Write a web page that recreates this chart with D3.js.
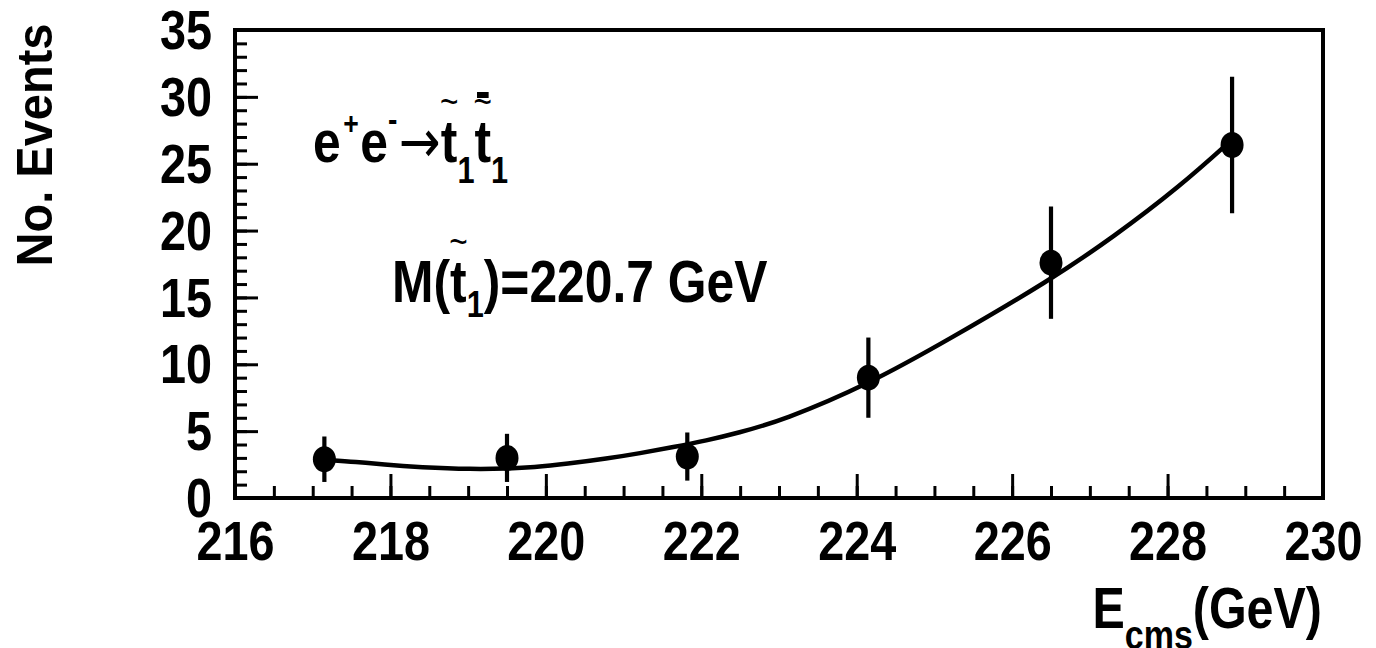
<!DOCTYPE html>
<html>
<head>
<meta charset="utf-8">
<script src="https://cdn.jsdelivr.net/npm/d3@7"></script>
<style>
	body { margin: 0; background: #fff; }
	svg { display: block; font-family: "Liberation Sans", Arial, sans-serif; font-weight: bold; }
</style>
</head>
<body>
<svg id="chart"></svg>
<script>
// measured points (centre-of-mass energy, events, stat. error)
let energies = [217.15, 219.5, 221.82, 224.15, 226.5, 228.83];
let events = [2.9, 3.0, 3.1, 9.0, 17.6, 26.4];
let errors = [1.7, 1.8, 1.8, 3.0, 4.2, 5.1];

// fitted curve
let fitE = [217.16, 217.57, 217.90, 218.38, 219.06, 219.50, 219.84, 220.27, 220.79, 221.21, 221.64,
	222.07, 222.46, 223.05, 224.15, 225.20, 226.49, 227.30, 228.16, 228.83];
let fitN = [2.85, 2.7, 2.5, 2.3, 2.15, 2.2, 2.3, 2.55, 2.95, 3.35, 3.8,
	4.3, 4.85, 5.8, 8.5, 11.9, 16.3, 19.5, 23.3, 26.8];

let xMajor = [216, 218, 220, 222, 224, 226, 228, 230];
let yMajor = [0, 5, 10, 15, 20, 25, 30, 35];

let w = 1376, h = 648;
let leftMargin = 235, rightMargin = 53, topMargin = 30, bottomMargin = 150;
let sx = 0.85; // the original font is a narrow one

let chart = d3.select('#chart').attr('width', w).attr('height', h);

let xScale = d3.scaleLinear().domain([216, 230]).range([leftMargin, w - rightMargin]);
let yScale = d3.scaleLinear().domain([0, 35]).range([h - bottomMargin, topMargin]);

// minor ticks
chart.append('g')
	.attr('transform', `translate(0, ${h - bottomMargin})`)
	.call(d3.axisBottom(xScale).tickValues(d3.range(216, 230.01, 0.5)).tickSizeInner(-12).tickSizeOuter(0).tickFormat(''))
	.call(g => g.select('.domain').remove())
	.selectAll('line').attr('stroke-width', 3);

chart.append('g')
	.attr('transform', `translate(${leftMargin}, 0)`)
	.call(d3.axisLeft(yScale).tickValues(d3.range(0, 35.01, 1)).tickSizeInner(-12).tickSizeOuter(0).tickFormat(''))
	.call(g => g.select('.domain').remove())
	.selectAll('line').attr('stroke-width', 3);

// major ticks + labels
let xAxisGroup = chart.append('g')
	.attr('transform', `translate(0, ${h - bottomMargin})`)
	.call(d3.axisBottom(xScale).tickValues(xMajor).tickSizeInner(-24).tickSizeOuter(0).tickPadding(23).tickFormat(d3.format('d')))
	.call(g => g.select('.domain').remove());
xAxisGroup.selectAll('line').attr('stroke-width', 3);
xAxisGroup.selectAll('text')
	.attr('font-size', 55).attr('font-family', null).attr('fill', '#000')
	.attr('transform', `scale(${sx},1)`);

let yAxisGroup = chart.append('g')
	.attr('transform', `translate(${leftMargin}, 0)`)
	.call(d3.axisLeft(yScale).tickValues(yMajor).tickSizeInner(-23).tickSizeOuter(0).tickFormat(d3.format('d')))
	.call(g => g.select('.domain').remove());
yAxisGroup.selectAll('line').attr('stroke-width', 3);
yAxisGroup.selectAll('text')
	.attr('font-size', 55).attr('font-family', null).attr('fill', '#000')
	.attr('x', -23 / sx).attr('dy', '0.34em')
	.attr('transform', `scale(${sx},1)`);

// frame
chart.append('rect')
	.attr('x', xScale(216)).attr('y', yScale(35))
	.attr('width', xScale(230) - xScale(216)).attr('height', yScale(0) - yScale(35))
	.attr('fill', 'none').attr('stroke', '#000').attr('stroke-width', 4);

// fit curve
let line = d3.line()
	.x((d, i) => xScale(fitE[i]))
	.y((d) => yScale(d))
	.curve(d3.curveBasis);

chart.append('path')
	.datum(fitN)
	.attr('d', line)
	.attr('fill', 'none')
	.attr('stroke', '#000')
	.attr('stroke-width', 4.5);

// data points with error bars
let points = energies.map((e, i) => ({ e: e, n: events[i], err: errors[i] }));

chart.selectAll('.err')
	.data(points)
	.enter()
	.append('line')
	.attr('class', 'err')
	.attr('x1', (d) => xScale(d.e)).attr('x2', (d) => xScale(d.e))
	.attr('y1', (d) => yScale(d.n - d.err)).attr('y2', (d) => yScale(d.n + d.err))
	.attr('stroke', '#000').attr('stroke-width', 4.2);

chart.selectAll('.marker')
	.data(points)
	.enter()
	.append('ellipse')
	.attr('class', 'marker')
	.attr('cx', (d) => xScale(d.e)).attr('cy', (d) => yScale(d.n))
	.attr('rx', 11.5).attr('ry', 13)
	.attr('fill', '#000');

// axis titles
chart.append('text')
	.attr('transform', 'translate(52,145) rotate(-90) scale(0.94,1)')
	.attr('text-anchor', 'middle')
	.attr('font-size', 50)
	.text('No. Events');

let xTitle = chart.append('text')
	.attr('transform', `translate(1322,628) scale(${sx},1)`)
	.attr('text-anchor', 'end')
	.attr('font-size', 57);
xTitle.append('tspan').text('E');
xTitle.append('tspan').attr('font-size', 40).attr('dy', 21).text('cms');
xTitle.append('tspan').attr('dy', -21).text('(GeV)');

// puts a tilde (and optionally a bar) over a tspan's first glyph
function decorate(g, tspan, bar) {
	let box = tspan.node().getExtentOfChar(0);
	let cx = box.x + box.width / 2;
	g.append('text')
		.attr('x', cx).attr('y', -47)
		.attr('text-anchor', 'middle')
		.attr('font-size', 38).attr('font-weight', 'normal')
		.text('~');
	if (bar) {
		g.append('rect')
			.attr('x', cx - 7).attr('y', -70)
			.attr('width', 14).attr('height', 6)
			.attr('fill', '#000');
	}
}

// reaction label
let ann1 = chart.append('g').attr('transform', 'translate(313,162) scale(0.83,1)');
let t1 = ann1.append('text').attr('font-size', 60);
t1.append('tspan').text('e');
t1.append('tspan').attr('font-size', 32).attr('dx', 3).attr('dy', -28).text('+');
t1.append('tspan').attr('dx', 2).attr('dy', 28).text('e');
t1.append('tspan').attr('font-size', 34).attr('dy', -31).text('-');
t1.append('tspan').attr('font-weight', 'normal').attr('font-family', 'DejaVu Sans')
	.attr('dx', 2).attr('dy', 31).text('\u2192');
let tA = t1.append('tspan').text('t');
t1.append('tspan').attr('font-size', 37).attr('dy', 21).text('1');
let tB = t1.append('tspan').attr('dy', -21).text('t');
t1.append('tspan').attr('font-size', 37).attr('dy', 21).text('1');
decorate(ann1, tA, false);
decorate(ann1, tB, true);

// mass label
let ann2 = chart.append('g').attr('transform', 'translate(392,302) scale(0.83,1)');
let t2 = ann2.append('text').attr('font-size', 60);
t2.append('tspan').text('M(');
let tC = t2.append('tspan').text('t');
t2.append('tspan').attr('font-size', 37).attr('dy', 15).text('1');
t2.append('tspan').attr('dy', -15).text(')=220.7 GeV');
decorate(ann2, tC, false);
</script>
</body>
</html>
